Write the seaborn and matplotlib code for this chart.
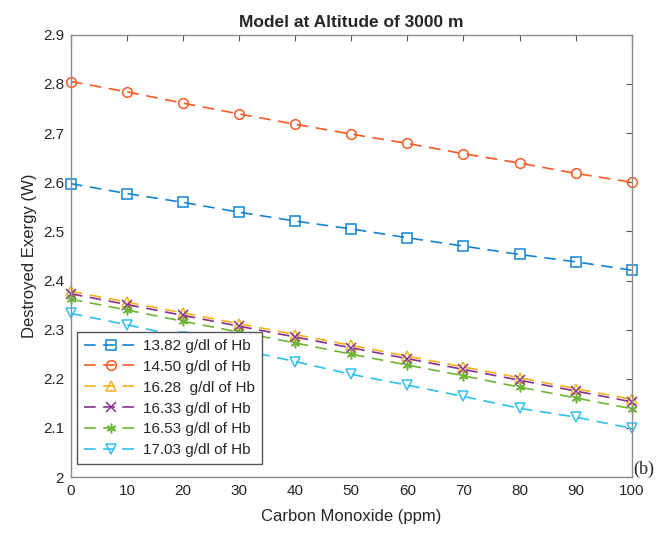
import pandas as pd
import seaborn as sns
import matplotlib.pyplot as plt

sns.set_style("white")
plt.rcParams['font.family'] = ['Liberation Sans', 'DejaVu Sans']

# carbon monoxide (ppm)
co_ppm = [0, 10, 20, 30, 40, 50, 60, 70, 80, 90, 100]

# destroyed exergy (W) per haemoglobin level
hb_1382 = [2.597, 2.577, 2.559, 2.539, 2.521, 2.505, 2.487, 2.470, 2.453, 2.438, 2.421]
hb_1450 = [2.805, 2.784, 2.761, 2.739, 2.718, 2.698, 2.679, 2.658, 2.639, 2.618, 2.600]
hb_1628 = [2.378, 2.356, 2.334, 2.312, 2.290, 2.268, 2.246, 2.224, 2.202, 2.180, 2.158]
hb_1633 = [2.373, 2.351, 2.329, 2.307, 2.285, 2.263, 2.241, 2.219, 2.197, 2.175, 2.153]
hb_1653 = [2.362, 2.340, 2.317, 2.295, 2.273, 2.250, 2.228, 2.206, 2.183, 2.161, 2.139]
hb_1703 = [2.333, 2.310, 2.285, 2.260, 2.235, 2.209, 2.187, 2.164, 2.140, 2.122, 2.099]

labels = ['13.82 g/dl of Hb', '14.50 g/dl of Hb', '16.28  g/dl of Hb',
          '16.33 g/dl of Hb', '16.53 g/dl of Hb', '17.03 g/dl of Hb']
series = [hb_1382, hb_1450, hb_1628, hb_1633, hb_1653, hb_1703]
colors = ['#1484d0', '#f95a23', '#f5b21c', '#86328f', '#6cb633', '#2fc0ef']
markers = ['s', 'o', '^', 'x', (6, 2, 0), 'v']

fig = plt.figure(figsize=(6.56, 5.36), dpi=100)
ax = fig.add_axes([0.108, 0.110, 0.855, 0.825])

for lab, vals, col, mk in zip(labels, series, colors, markers):
    df = pd.DataFrame({'co': co_ppm, 'ex': vals})
    sns.lineplot(data=df, x='co', y='ex', ax=ax, label=lab, color=col,
                 marker=mk, markersize=7, markerfacecolor='none',
                 markeredgecolor=col, markeredgewidth=1.1,
                 linewidth=1.2, dashes=(7, 4.5), clip_on=False)

ax.set_xlim(0, 100)
ax.set_ylim(2.0, 2.9)
ax.set_xticks(range(0, 101, 10))
ax.set_yticks([2.0, 2.1, 2.2, 2.3, 2.4, 2.5, 2.6, 2.7, 2.8, 2.9])
ax.set_yticklabels(['2', '2.1', '2.2', '2.3', '2.4', '2.5', '2.6', '2.7', '2.8', '2.9'])
ax.tick_params(direction='in', top=True, right=True, length=4, width=0.8,
               color='#555555', labelsize=11, labelcolor='#262626', pad=5)
for sp in ax.spines.values():
    sp.set_color('#8c8c8c')
    sp.set_linewidth(1.0)

ax.set_xlabel('Carbon Monoxide (ppm)', fontsize=12, color='#262626', labelpad=8)
ax.set_ylabel('Destroyed Exergy (W)', fontsize=12, color='#262626')
ax.set_title('Model at Altitude of 3000 m', fontsize=12.5, fontweight='bold', pad=6)

leg = ax.legend(loc='lower left', bbox_to_anchor=(0.011, 0.029), borderaxespad=0,
                fontsize=11, frameon=True, fancybox=False, framealpha=1,
                edgecolor='#555555', handlelength=3.6, borderpad=0.45,
                labelspacing=0.45, handletextpad=0.3)
leg.get_frame().set_linewidth(1.0)

fig.text(0.966, 0.108, '(b)', fontsize=13, family=['Liberation Serif'], va='bottom')

fig.savefig('out.png', dpi=100)
